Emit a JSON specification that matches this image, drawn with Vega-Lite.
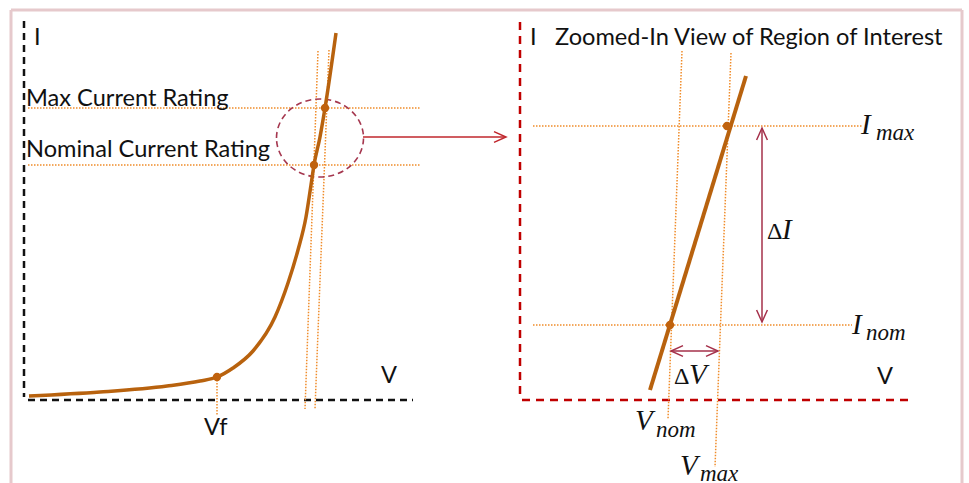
{
  "$schema": "https://vega.github.io/schema/vega-lite/v6.json",
  "width": 969,
  "height": 483,
  "padding": 0,
  "autosize": {"type": "none"},
  "background": "white",
  "config": {"view": {"stroke": null}, "axis": {"disable": true}},
  "datasets": {
    "frame": [
      {"x": 11, "y": 10, "x2": 962, "y2": 10},
      {"x": 11, "y": 10, "x2": 11, "y2": 483},
      {"x": 962, "y": 10, "x2": 962, "y2": 483}
    ],
    "axesBlack": [
      {"x": 24, "y": 21, "x2": 24, "y2": 397},
      {"x": 28, "y": 400, "x2": 413, "y2": 400}
    ],
    "axesRed": [
      {"x": 520, "y": 22, "x2": 520, "y2": 398},
      {"x": 522, "y": 400, "x2": 908, "y2": 400}
    ],
    "guides": [
      {"x": 28, "y": 108, "x2": 421, "y2": 108},
      {"x": 28, "y": 165, "x2": 421, "y2": 165},
      {"x": 217, "y": 377, "x2": 217, "y2": 415},
      {"x": 318, "y": 51, "x2": 305, "y2": 409},
      {"x": 329, "y": 50, "x2": 315, "y2": 409},
      {"x": 533, "y": 126, "x2": 863, "y2": 126},
      {"x": 533, "y": 325, "x2": 852, "y2": 325},
      {"x": 682, "y": 51, "x2": 668, "y2": 419},
      {"x": 731, "y": 53, "x2": 715, "y2": 467}
    ],
    "ellipse": [{"x": 320, "y": 138}],
    "redArrow": [{"x": 363, "y": 137, "x2": 505, "y2": 137}],
    "redHeads": [{"x": 506, "y": 137, "dir": "right"}],
    "deltaArrows": [
      {"x": 762, "y": 129, "x2": 762, "y2": 321},
      {"x": 671, "y": 351, "x2": 718, "y2": 351}
    ],
    "deltaHeads": [
      {"x": 762, "y": 128, "dir": "up"},
      {"x": 762, "y": 322, "dir": "down"},
      {"x": 671, "y": 351, "dir": "left"},
      {"x": 718, "y": 351, "dir": "right"}
    ],
    "curve": [
      {"x": 29, "y": 396},
      {"x": 100, "y": 392},
      {"x": 167, "y": 386},
      {"x": 200, "y": 381},
      {"x": 217, "y": 377},
      {"x": 233, "y": 368},
      {"x": 253, "y": 351},
      {"x": 275, "y": 317},
      {"x": 288, "y": 283},
      {"x": 298, "y": 250},
      {"x": 306, "y": 217},
      {"x": 311, "y": 185},
      {"x": 314, "y": 165},
      {"x": 320, "y": 137},
      {"x": 325, "y": 108},
      {"x": 336, "y": 33}
    ],
    "zoomLine": [
      {"x": 650, "y": 390},
      {"x": 746, "y": 76}
    ],
    "dots": [
      {"x": 217, "y": 377},
      {"x": 314, "y": 165},
      {"x": 325, "y": 108},
      {"x": 670, "y": 325},
      {"x": 727, "y": 126}
    ],
    "sansLabels": [
      {"x": 34, "y": 45, "label": "I"},
      {"x": 26, "y": 106, "label": "Max Current Rating"},
      {"x": 26, "y": 157, "label": "Nominal Current Rating"},
      {"x": 204, "y": 435, "label": "Vf"},
      {"x": 381, "y": 383, "label": "V"},
      {"x": 530, "y": 45, "label": "I"},
      {"x": 555, "y": 45, "label": "Zoomed-In View of Region of Interest"},
      {"x": 877, "y": 384, "label": "V"}
    ],
    "mathMain": [
      {"x": 861, "y": 134, "label": "I"},
      {"x": 852, "y": 334, "label": "I"},
      {"x": 635, "y": 430, "label": "V"},
      {"x": 680, "y": 475, "label": "V"},
      {"x": 782, "y": 239, "label": "I"},
      {"x": 689, "y": 384, "label": "V"}
    ],
    "mathDelta": [
      {"x": 767, "y": 239, "label": "Δ"},
      {"x": 674, "y": 384, "label": "Δ"}
    ],
    "mathSub": [
      {"x": 876, "y": 140, "label": "max"},
      {"x": 866, "y": 340, "label": "nom"},
      {"x": 656, "y": 437, "label": "nom"},
      {"x": 700, "y": 481, "label": "max"}
    ]
  },
  "encoding": {
    "x": {"field": "x", "type": "quantitative", "scale": {"domain": [0, 969], "nice": false, "zero": false}},
    "y": {"field": "y", "type": "quantitative", "scale": {"domain": [0, 483], "reverse": true, "nice": false, "zero": false}}
  },
  "layer": [
    {
      "data": {"name": "frame"},
      "mark": {"type": "rule", "color": "#e6c9cc", "strokeWidth": 3},
      "encoding": {"x2": {"field": "x2"}, "y2": {"field": "y2"}}
    },
    {
      "data": {"name": "axesBlack"},
      "mark": {"type": "rule", "color": "#111111", "strokeWidth": 2.5, "strokeDash": [7, 5]},
      "encoding": {"x2": {"field": "x2"}, "y2": {"field": "y2"}}
    },
    {
      "data": {"name": "axesRed"},
      "mark": {"type": "rule", "color": "#c00000", "strokeWidth": 2.5, "strokeDash": [8, 6]},
      "encoding": {"x2": {"field": "x2"}, "y2": {"field": "y2"}}
    },
    {
      "data": {"name": "guides"},
      "mark": {"type": "rule", "color": "#f08c2a", "strokeWidth": 1.5, "strokeDash": [1.5, 1.5]},
      "encoding": {"x2": {"field": "x2"}, "y2": {"field": "y2"}}
    },
    {
      "data": {"name": "ellipse"},
      "mark": {"type": "point", "shape": "M-1,0A1,0.897,0,1,1,1,0A1,0.897,0,1,1,-1,0Z", "size": 7569, "filled": false, "opacity": 1, "color": "#a5374f", "strokeWidth": 1.6, "strokeDash": [6, 4]}
    },
    {
      "data": {"name": "redArrow"},
      "mark": {"type": "rule", "color": "#c0272d", "strokeWidth": 1.5},
      "encoding": {"x2": {"field": "x2"}, "y2": {"field": "y2"}}
    },
    {
      "data": {"name": "redHeads"},
      "mark": {"type": "point", "filled": false, "opacity": 1, "color": "#c0272d", "strokeWidth": 1.5, "size": 576},
      "encoding": {
        "shape": {"field": "dir", "type": "nominal", "legend": null,
          "scale": {"domain": ["right", "left", "up", "down"], "range": ["M-1,-0.45L0,0L-1,0.45", "M1,-0.45L0,0L1,0.45", "M-0.45,1L0,0L0.45,1", "M-0.45,-1L0,0L0.45,-1"]}}
      }
    },
    {
      "data": {"name": "deltaArrows"},
      "mark": {"type": "rule", "color": "#a5304a", "strokeWidth": 1.5},
      "encoding": {"x2": {"field": "x2"}, "y2": {"field": "y2"}}
    },
    {
      "data": {"name": "deltaHeads"},
      "mark": {"type": "point", "filled": false, "opacity": 1, "color": "#a5304a", "strokeWidth": 1.5, "size": 576},
      "encoding": {
        "shape": {"field": "dir", "type": "nominal", "legend": null,
          "scale": {"domain": ["right", "left", "up", "down"], "range": ["M-1,-0.45L0,0L-1,0.45", "M1,-0.45L0,0L1,0.45", "M-0.45,1L0,0L0.45,1", "M-0.45,-1L0,0L0.45,-1"]}}
      }
    },
    {
      "data": {"name": "curve"},
      "mark": {"type": "line", "color": "#b8620e", "strokeWidth": 3.5, "interpolate": "monotone"}
    },
    {
      "data": {"name": "zoomLine"},
      "mark": {"type": "line", "color": "#b8620e", "strokeWidth": 4}
    },
    {
      "data": {"name": "dots"},
      "mark": {"type": "point", "filled": true, "opacity": 1, "color": "#c0620e", "size": 70}
    },
    {
      "data": {"name": "sansLabels"},
      "mark": {"type": "text", "align": "left", "baseline": "alphabetic", "font": "Lato", "fontSize": 23.6, "color": "#111111"},
      "encoding": {"text": {"field": "label"}}
    },
    {
      "data": {"name": "mathMain"},
      "mark": {"type": "text", "align": "left", "baseline": "alphabetic", "font": "Liberation Serif", "fontStyle": "italic", "fontSize": 29, "color": "#111111"},
      "encoding": {"text": {"field": "label"}}
    },
    {
      "data": {"name": "mathDelta"},
      "mark": {"type": "text", "align": "left", "baseline": "alphabetic", "font": "Liberation Serif", "fontSize": 24, "color": "#111111"},
      "encoding": {"text": {"field": "label"}}
    },
    {
      "data": {"name": "mathSub"},
      "mark": {"type": "text", "align": "left", "baseline": "alphabetic", "font": "Liberation Serif", "fontStyle": "italic", "fontSize": 23, "color": "#111111"},
      "encoding": {"text": {"field": "label"}}
    }
  ]
}
